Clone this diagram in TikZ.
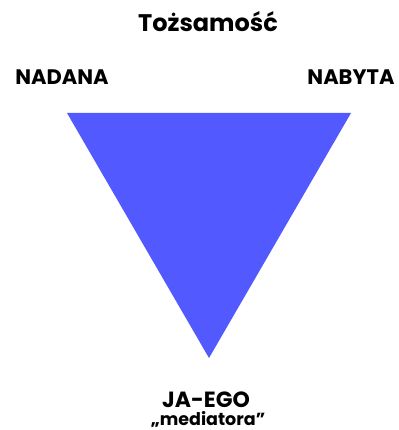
\documentclass[tikz,border=0pt]{standalone}
\usepackage{fontspec}
\setmainfont{Poppins}
\definecolor{tri}{RGB}{82,90,255}
\tikzset{
  lbl/.style={font=\fontsize{21}{24}\selectfont\bfseries, inner sep=0pt, anchor=base},
  ttl/.style={font=\fontsize{24}{28}\selectfont\bfseries, inner sep=0pt, anchor=base},
}
\begin{document}
\begin{tikzpicture}[x=1pt,y=-1pt]
\useasboundingbox[fill=white] (0,0) rectangle (398,430);
\coordinate (tl) at (67,113);
\coordinate (tr) at (351,113);
\coordinate (bt) at (209,358);
\fill[tri] (tl) -- (tr) -- (bt) -- cycle;
\node[ttl] (title) at (208,32) {Tożsamość};
\node[lbl] (nadana) at (62,85) {NADANA};
\node[lbl] (nabyta) at (351,85) {NABYTA};
\node[lbl, font=\fontsize{22}{24}\selectfont\bfseries] (jaego) at (206,407) {JA-EGO};
\node[lbl, font=\fontsize{17.5}{20}\selectfont\bfseries] (med) at (208,425) {„mediatora”};
\end{tikzpicture}
\end{document}
